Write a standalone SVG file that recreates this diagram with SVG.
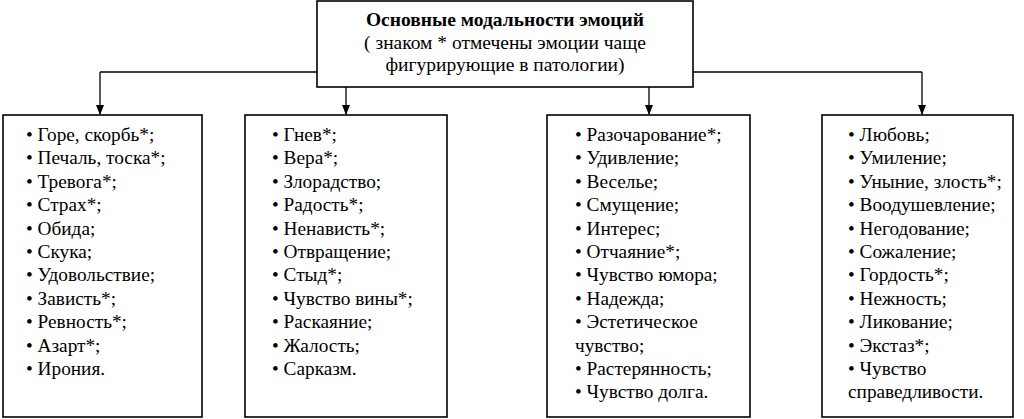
<svg xmlns="http://www.w3.org/2000/svg" width="1024" height="419" viewBox="0 0 1024 419">
<style>
.box{fill:#fff;stroke:#000;stroke-width:1.6}
.t{font-family:"Liberation Serif","Times New Roman",serif;font-size:19.3px;fill:#000}
.tt{font-family:"Liberation Serif","Times New Roman",serif;font-size:19.5px;fill:#000}
.h{font-weight:bold}
.c{stroke:#000;stroke-width:1.3;fill:none}
</style>
<defs>
<marker id="ar" markerWidth="10" markerHeight="10" refX="9" refY="5" orient="auto" markerUnits="userSpaceOnUse">
<path d="M0,1 L10,5 L0,9 Z" fill="#000"/>
</marker>
</defs>
<rect width="1024" height="419" fill="#fff"/>
<g id="connectors">
<path class="c" d="M100,72 H922"/>
<path class="c" d="M100,72 V114" marker-end="url(#ar)"/>
<path class="c" d="M346,72 V114" marker-end="url(#ar)"/>
<path class="c" d="M649,72 V114" marker-end="url(#ar)"/>
<path class="c" d="M922,72 V114" marker-end="url(#ar)"/>
</g>
<g id="title">
<rect class="box" x="317" y="1" width="376" height="86"/>
<text class="tt h" x="505" y="26" text-anchor="middle">Основные модальности эмоций</text>
<text class="tt" x="505" y="49" text-anchor="middle">( знаком * отмечены эмоции чаще</text>
<text class="tt" x="505" y="71" text-anchor="middle">фигурирующие в патологии)</text>
</g>
<g id="box1">
<rect class="box" x="3" y="115" width="199" height="302"/>
<g class="t">
<text x="26" y="141">• Горе, скорбь*;</text>
<text x="26" y="164.4">• Печаль, тоска*;</text>
<text x="26" y="187.8">• Тревога*;</text>
<text x="26" y="211.2">• Страх*;</text>
<text x="26" y="234.6">• Обида;</text>
<text x="26" y="258">• Скука;</text>
<text x="26" y="281.4">• Удовольствие;</text>
<text x="26" y="304.8">• Зависть*;</text>
<text x="26" y="328.2">• Ревность*;</text>
<text x="26" y="351.6">• Азарт*;</text>
<text x="26" y="375">• Ирония.</text>
</g>
</g>
<g id="box2">
<rect class="box" x="245" y="115" width="202" height="302"/>
<g class="t">
<text x="272" y="141">• Гнев*;</text>
<text x="272" y="164.4">• Вера*;</text>
<text x="272" y="187.8">• Злорадство;</text>
<text x="272" y="211.2">• Радость*;</text>
<text x="272" y="234.6">• Ненависть*;</text>
<text x="272" y="258">• Отвращение;</text>
<text x="272" y="281.4">• Стыд*;</text>
<text x="272" y="304.8">• Чувство вины*;</text>
<text x="272" y="328.2">• Раскаяние;</text>
<text x="272" y="351.6">• Жалость;</text>
<text x="272" y="375">• Сарказм.</text>
</g>
</g>
<g id="box3">
<rect class="box" x="547" y="115" width="203" height="302"/>
<g class="t">
<text x="575" y="141">• Разочарование*;</text>
<text x="575" y="164.4">• Удивление;</text>
<text x="575" y="187.8">• Веселье;</text>
<text x="575" y="211.2">• Смущение;</text>
<text x="575" y="234.6">• Интерес;</text>
<text x="575" y="258">• Отчаяние*;</text>
<text x="575" y="281.4">• Чувство юмора;</text>
<text x="575" y="304.8">• Надежда;</text>
<text x="575" y="328.2">• Эстетическое</text>
<text x="575" y="351.6">чувство;</text>
<text x="575" y="375">• Растерянность;</text>
<text x="575" y="398.4">• Чувство долга.</text>
</g>
</g>
<g id="box4">
<rect class="box" x="822" y="115" width="191" height="302"/>
<g class="t">
<text x="848" y="141">• Любовь;</text>
<text x="848" y="164.4">• Умиление;</text>
<text x="848" y="187.8">• Уныние, злость*;</text>
<text x="848" y="211.2">• Воодушевление;</text>
<text x="848" y="234.6">• Негодование;</text>
<text x="848" y="258">• Сожаление;</text>
<text x="848" y="281.4">• Гордость*;</text>
<text x="848" y="304.8">• Нежность;</text>
<text x="848" y="328.2">• Ликование;</text>
<text x="848" y="351.6">• Экстаз*;</text>
<text x="848" y="375">• Чувство</text>
<text x="848" y="398.4">справедливости.</text>
</g>
</g>
</svg>
